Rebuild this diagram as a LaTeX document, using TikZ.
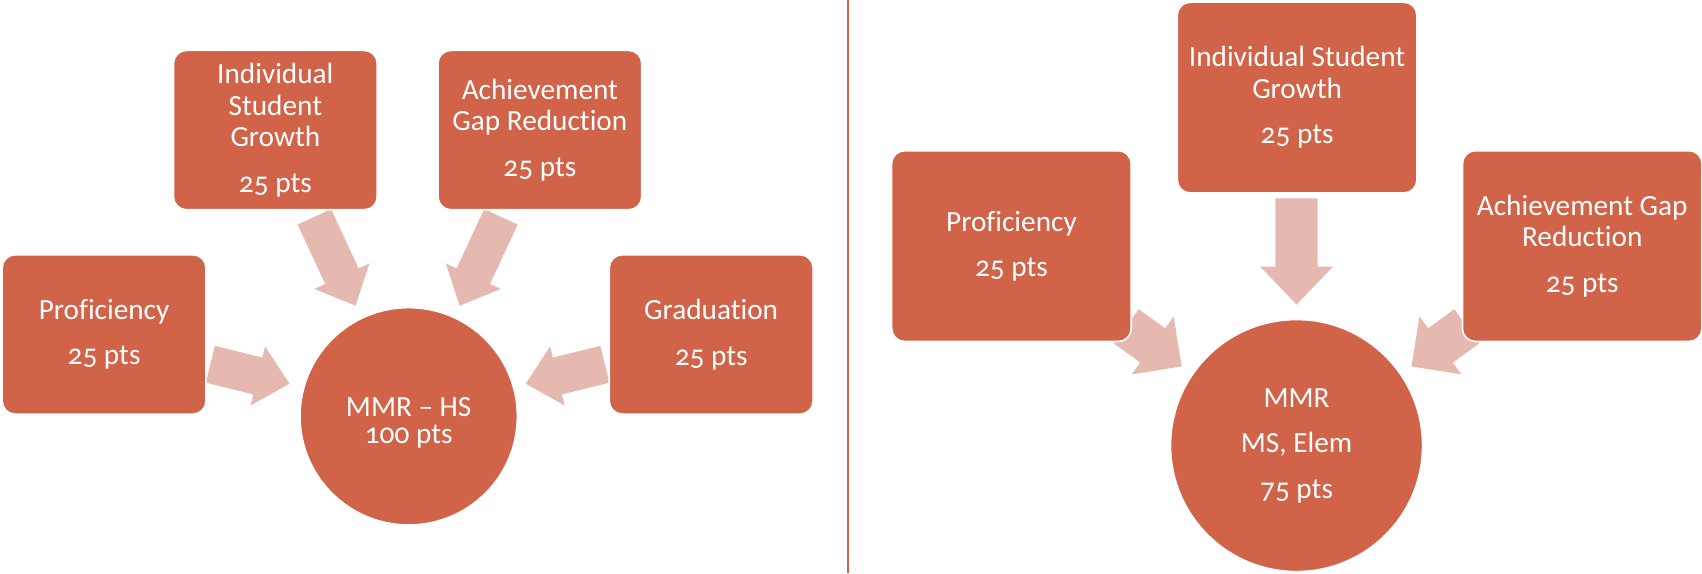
\documentclass[tikz,border=0pt]{standalone}
\usepackage{fontspec}
\setmainfont{Carlito}[Numbers=OldStyle,Ligatures=NoCommon]
\usetikzlibrary{calc}
\definecolor{boxc}{RGB}{209,99,73}
\definecolor{arrc}{RGB}{229,184,176}
% #1 tail, #2 tip, #3 shaft half width, #4 head half width, #5 head length
\newcommand\blockarr[5]{%
  \coordinate (nk) at ($(#2)!#5!(#1)$);
  \fill[arrc] ($(#1)!#3!90:(#2)$) -- ($(nk)!#3!90:(#2)$) -- ($(nk)!#4!90:(#2)$) -- (#2)
    -- ($(nk)!#4!-90:(#2)$) -- ($(nk)!#3!-90:(#2)$) -- ($(#1)!#3!-90:(#2)$) -- cycle;}
\begin{document}
\begin{tikzpicture}[x=1pt,y=-1pt,
  txt/.style={text=white, align=center, font=\fontsize{27}{29}\selectfont, inner sep=0pt},
  box/.style={txt, fill=boxc, draw=white, line width=1.5pt, rounded corners=12pt},
  boxL/.style={box, minimum width=188pt, minimum height=147pt},
  boxR/.style={box, minimum width=221pt, minimum height=176pt},
  hub/.style={txt, circle, fill=boxc, draw=white, line width=1pt},
  divider/.style={draw=boxc, line width=1.5pt}]
\useasboundingbox (0,0) rectangle (1570,528.6);
% ---------- left panel ----------
\coordinate (a1t) at (290,200); \coordinate (a1h) at (328,282);
\coordinate (a2t) at (462,200); \coordinate (a2h) at (424,282);
\coordinate (a3t) at (194,336); \coordinate (a3h) at (267,354);
\coordinate (a4t) at (558,336); \coordinate (a4h) at (485,354);
\blockarr{a1t}{a1h}{17pt}{28pt}{30pt}
\blockarr{a2t}{a2h}{17pt}{28pt}{30pt}
\blockarr{a3t}{a3h}{17.5pt}{28pt}{30pt}
\blockarr{a4t}{a4h}{17.5pt}{28pt}{30pt}
\node[boxL] (isgL) at (254,120) {Individual\\Student\\Growth\\[13pt]25 pts};
\node[boxL] (agrL) at (498,120) {Achievement\\Gap Reduction\\[13pt]25 pts};
\node[boxL] (profL) at (96,308.5) {Proficiency\\[13pt]25 pts};
\node[boxL] (gradL) at (656,308.5) {Graduation\\[13pt]25 pts};
\node[hub, minimum size=200pt] (hs) at (377,384) {\rule{0pt}{30pt}MMR -- HS\\[-4pt]100 pts};
% ---------- divider ----------
\coordinate (dtop) at (782,0); \coordinate (dbot) at (782,528.6);
\draw[divider] (dtop) -- (dbot);
% ---------- right panel ----------
\coordinate (b1t) at (1196,183); \coordinate (b1h) at (1196,281);
\coordinate (b2t) at (1039,301); \coordinate (b2h) at (1090,338);
\coordinate (b3t) at (1353,301); \coordinate (b3h) at (1302,338);
\blockarr{b1t}{b1h}{19.5pt}{33.5pt}{35pt}
\blockarr{b2t}{b2h}{19.5pt}{33pt}{33pt}
\blockarr{b3t}{b3h}{19.5pt}{33pt}{33pt}
\node[boxR] (isgR) at (1196.5,90) {Individual Student\\Growth\\[13pt]25 pts};
\node[boxR] (profR) at (933,227) {Proficiency\\[13pt]25 pts};
\node[boxR] (agrR) at (1459.5,227) {Achievement Gap\\Reduction\\[13pt]25 pts};
\node[hub, minimum size=232pt] (ms) at (1196,411) {MMR\\[13pt]MS, Elem\\[13pt]75 pts};
\end{tikzpicture}
\end{document}
